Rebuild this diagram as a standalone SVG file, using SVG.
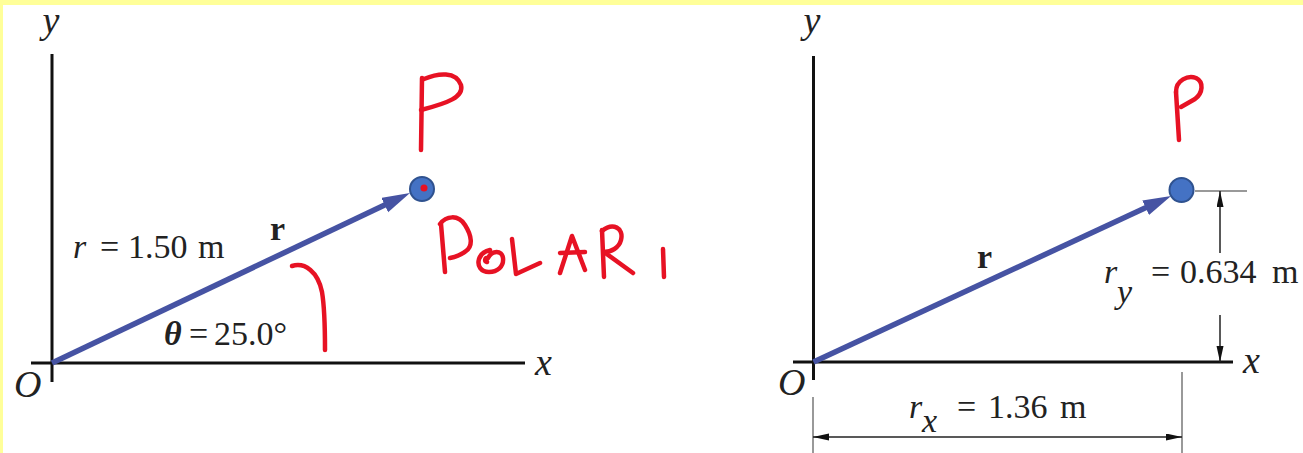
<svg xmlns="http://www.w3.org/2000/svg" width="1303" height="453" viewBox="0 0 1303 453">
<style>
.axis{stroke:#111;stroke-width:3;fill:none}
.vec{stroke:#4653A3;stroke-width:5.5;fill:none}
.dim{stroke:#222;stroke-width:1.5;fill:none}
.ext{stroke:#777;stroke-width:1.5;fill:none}
.pt{fill:#4472C4;stroke:#2F528F;stroke-width:2}
.ink{stroke:#E71224;stroke-width:4.5;fill:none;stroke-linecap:round;stroke-linejoin:round}
text{font-family:"Liberation Serif","Times New Roman",serif;font-size:34px;fill:#222}
.it{font-style:italic}
.ax{font-style:italic;font-size:38px}
.bd{font-weight:bold}
</style>
<defs>
<marker id="vhead" markerUnits="userSpaceOnUse" markerWidth="30" markerHeight="18" refX="7" refY="8" orient="auto">
<path d="M0,0 L28,8 L0,16 z" fill="#4653A3"/>
</marker>
<marker id="dhead" markerUnits="userSpaceOnUse" markerWidth="18" markerHeight="8" refX="16" refY="3.5" orient="auto-start-reverse">
<path d="M0,0 L16,3.5 L0,7 z" fill="#111"/>
</marker>
</defs>
<rect x="0" y="0" width="1303" height="453" fill="#FFFF99"/>
<rect x="3" y="5" width="1300" height="448" fill="#FFFFFF"/>

<g id="left-axes">
<line class="axis" x1="52" y1="54" x2="52" y2="382"/>
<line class="axis" x1="31" y1="363" x2="525" y2="363"/>
<text class="ax" x="51" y="33" text-anchor="middle">y</text>
<text class="ax" x="535" y="375">x</text>
<text class="ax" x="14" y="397">O</text>
</g>

<g id="right-axes">
<line class="axis" x1="813.5" y1="56" x2="813.5" y2="380"/>
<line class="axis" x1="793" y1="362" x2="1233" y2="362"/>
<text class="ax" x="812" y="33" text-anchor="middle">y</text>
<text class="ax" x="1243" y="373">x</text>
<text class="ax" x="778" y="395">O</text>
</g>

<g id="connectors">
<line class="vec" x1="52" y1="363" x2="391" y2="202" marker-end="url(#vhead)"/>
<line class="vec" x1="813.5" y1="362" x2="1152" y2="204.8" marker-end="url(#vhead)"/>
<line class="ext" x1="1195" y1="191" x2="1247" y2="191"/>
<line class="dim" x1="1220" y1="253" x2="1220" y2="191" marker-end="url(#dhead)"/>
<line class="dim" x1="1220" y1="315" x2="1220" y2="362" marker-end="url(#dhead)"/>
<line class="ext" x1="813" y1="397" x2="813" y2="453"/>
<line class="ext" x1="1182" y1="372" x2="1182" y2="453"/>
<line class="dim" x1="813" y1="437" x2="1182" y2="437" marker-start="url(#dhead)" marker-end="url(#dhead)"/>
</g>

<g id="left-point">
<circle class="pt" cx="422" cy="189" r="12"/>
<circle cx="424" cy="188" r="3.5" fill="#E71224"/>
</g>

<g id="right-point">
<circle class="pt" cx="1181.5" cy="190" r="12"/>
</g>

<g id="left-labels">
<text y="258"><tspan class="it" x="73">r</tspan><tspan x="100">=</tspan><tspan x="128">1.50</tspan><tspan x="198">m</tspan></text>
<text class="bd" x="270" y="240">r</text>
<text y="345"><tspan class="it bd" x="164">θ</tspan><tspan x="189">=</tspan><tspan x="214">25.0°</tspan></text>
</g>

<g id="right-labels">
<text class="bd" x="977" y="268">r</text>
<text y="283"><tspan class="it" x="1104">r</tspan><tspan class="it" x="1117" y="303">y</tspan><tspan x="1151" y="283">=</tspan><tspan x="1180">0.634</tspan><tspan x="1272">m</tspan></text>
<text y="418"><tspan class="it" x="909">r</tspan><tspan class="it" x="922" y="432">x</tspan><tspan x="957" y="418">=</tspan><tspan x="988">1.36</tspan><tspan x="1060">m</tspan></text>
</g>

<g id="annotations">
<path class="ink" d="M422,78 L421,150"/>
<path class="ink" d="M424,79 C438,73 456,71 461,85 C464,97 448,103 421,110"/>
<path class="ink" d="M1176,92 L1179,140"/>
<path class="ink" d="M1176,92 C1176,80 1188,75 1196,78 C1204,82 1203,93 1195,99 L1181,107"/>
<path class="ink" d="M292,266 C305,262 318,272 322,292 C325,310 325,330 325,350"/>
<path class="ink" d="M441,224 L445,272"/>
<path class="ink" d="M440,224 C446,216 458,214 465,225 C472,236 473,246 466,251 C461,255 455,257 450,258"/>
<path class="ink" d="M487,262 C484,261 485,257 488,258 M488,258 C492,250 502,250 503,258 C504,267 497,272 489,272 C481,272 477,266 479,259 C481,253 485,251 490,250"/>
<path class="ink" d="M512,239 L516,274 L540,263"/>
<path class="ink" d="M560,273 L572,236 L585,270"/>
<path class="ink" d="M560,253 L585,252"/>
<path class="ink" d="M602,230 L604,277"/>
<path class="ink" d="M602,231 C613,222 624,228 621,240 C619,248 611,252 604,252 L633,273"/>
<path class="ink" d="M663,249 L664,277"/>
</g>
</svg>
